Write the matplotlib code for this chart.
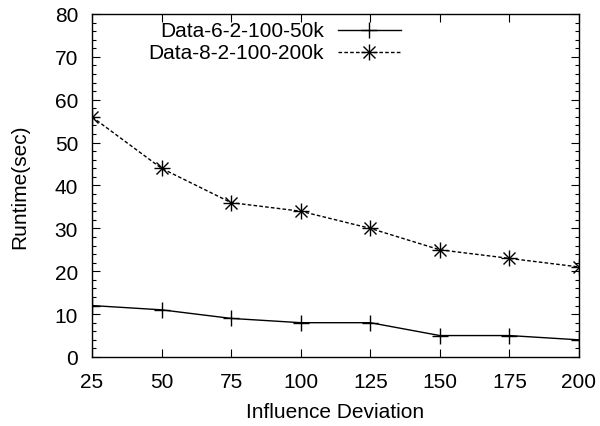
import matplotlib
matplotlib.use("Agg")
import matplotlib.pyplot as plt
from matplotlib.ticker import MultipleLocator
from matplotlib.lines import Line2D

plt.rcParams['font.family'] = ['Liberation Sans', 'DejaVu Sans']

x = [25, 50, 75, 100, 125, 150, 175, 200]
s1_name = "Data-6-2-100-50k"
s1 = [12, 11, 9, 8, 8, 5, 5, 4]
s2_name = "Data-8-2-100-200k"
s2 = [56, 44, 36, 34, 30, 25, 23, 21]
xticks = [25, 50, 75, 100, 125, 150, 175, 200]
yticks = [0, 10, 20, 30, 40, 50, 60, 70, 80]

FS = 15
DASH = (0, (2.6, 1.6))

fig = plt.figure(figsize=(6.0, 4.27), dpi=100)
ax = fig.add_axes([0.1533, 0.1616, 0.965 - 0.1533, 0.9649 - 0.1616])

def star(ax, xs, ys, transform=None):
    kw = {} if transform is None else {'transform': transform}
    ax.plot(xs, ys, color='black', lw=0, marker='+', ms=11, mew=1.0, **kw)
    ax.plot(xs, ys, color='black', lw=0, marker='x', ms=8, mew=1.0, **kw)

ax.plot(x, s1, color='black', lw=1.0, marker='+', ms=11, mew=1.0)
ax.plot(x, s2, color='black', lw=1.0, ls=DASH)
star(ax, x, s2)

ax.set_xlim(25, 200)
ax.set_ylim(0, 80)
ax.set_xticks(xticks)
ax.set_yticks(yticks)
ax.yaxis.set_minor_locator(MultipleLocator(2))
ax.tick_params(which='both', direction='in', top=True, right=True, labelsize=FS, width=0.8)
ax.tick_params(axis='x', pad=11)
ax.tick_params(axis='y', pad=10)
ax.tick_params(which='major', length=6)
ax.tick_params(which='minor', length=3)
for sp in ax.spines.values():
    sp.set_linewidth(1.0)

ax.set_xlabel("Influence Deviation", fontsize=FS, labelpad=8)
ax.set_ylabel("Runtime(sec)", fontsize=FS, labelpad=18)

# gnuplot-style legend: right-justified text, sample to the right
tx = 0.476
lx0, lx1 = 0.505, 0.634
rows = [0.953, 0.889]
for i, (name, kind) in enumerate([(s1_name, 1), (s2_name, 2)]):
    yy = rows[i]
    ax.text(tx, yy, name, transform=ax.transAxes, ha='right', va='center', fontsize=FS)
    mx = (lx0 + lx1) / 2
    if kind == 1:
        ax.add_line(Line2D([lx0, lx1], [yy, yy], transform=ax.transAxes, color='black', lw=1.0))
        ax.add_line(Line2D([mx], [yy], transform=ax.transAxes, color='black', lw=0, marker='+', ms=11, mew=1.0))
    else:
        ax.add_line(Line2D([lx0, lx1], [yy, yy], transform=ax.transAxes, color='black', lw=1.0, ls=DASH))
        ax.add_line(Line2D([mx], [yy], transform=ax.transAxes, color='black', lw=0, marker='+', ms=11, mew=1.0))
        ax.add_line(Line2D([mx], [yy], transform=ax.transAxes, color='black', lw=0, marker='x', ms=8, mew=1.0))

fig.savefig("out.png", dpi=100)
